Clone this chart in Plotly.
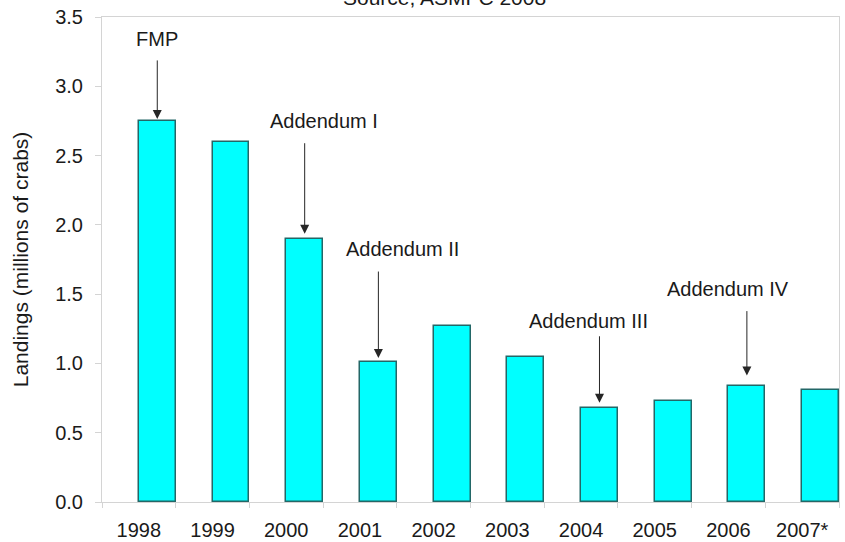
import plotly.graph_objects as go

# Annual landings, millions of crabs
years = ["1998", "1999", "2000", "2001", "2002", "2003", "2004", "2005", "2006", "2007*"]
landings = [2.75, 2.60, 1.90, 1.01, 1.27, 1.05, 0.68, 0.73, 0.84, 0.81]

# Management actions and the year each took effect
actions = ["FMP", "Addendum I", "Addendum II", "Addendum III", "Addendum IV"]
action_years = ["1998", "2000", "2001", "2004", "2006"]

FONT = "Liberation Sans, Arial, sans-serif"
TEXT = "#1a1a1a"
BAR_FILL = "#00FFFF"
BAR_EDGE = "#236767"
AXIS_GREY = "#d4d4d4"

fig = go.Figure()

# Each bar sits in the right half of its category slot
fig.add_trace(go.Bar(
    x=years,
    y=landings,
    offset=0,
    width=0.5,
    marker=dict(color=BAR_FILL, line=dict(color=BAR_EDGE, width=1.5)),
    showlegend=False,
    hoverinfo="x+y",
))

# Arrow styling per action: (arrow length px, gap above bar px, label lift px, label x shift px)
arrow_style = {
    "FMP": (60, 2, 82, 0),
    "Addendum I": (92, 5, 118, 19),
    "Addendum II": (88, 4, 113, 24),
    "Addendum III": (68, 5, 87, -11),
    "Addendum IV": (66, 10, 97, -19),
}

annotations = []
for label, yr in zip(actions, action_years):
    i = years.index(yr)
    val = landings[i]
    length, gap, lift, dx = arrow_style[label]
    xc = i + 0.25
    annotations.append(dict(
        x=xc, y=val, xref="x", yref="y",
        text="", showarrow=True,
        ax=0, ay=-(length + gap), axref="pixel", ayref="pixel",
        standoff=gap,
        arrowhead=2, arrowsize=1.8, arrowwidth=1, arrowcolor="#262626",
    ))
    annotations.append(dict(
        x=xc, y=val, xref="x", yref="y",
        text=label, showarrow=False,
        xshift=dx, yshift=lift,
        xanchor="center", yanchor="middle",
        font=dict(family=FONT, size=20, color=TEXT),
    ))

# Source note along the top edge
annotations.append(dict(
    x=0.465, y=1, xref="paper", yref="paper",
    text="Source, ASMFC 2008", showarrow=False,
    xanchor="center", yanchor="bottom", yshift=6,
    font=dict(family=FONT, size=21, color=TEXT),
))

fig.update_layout(
    width=845, height=542,
    margin=dict(l=102, r=6, t=17, b=40),
    plot_bgcolor="white",
    paper_bgcolor="white",
    font=dict(family=FONT, size=20, color=TEXT),
    annotations=annotations,
    bargap=0,
)

fig.update_xaxes(
    type="category",
    range=[-0.5, 9.5],
    automargin=False,
    showline=True, linecolor=AXIS_GREY, linewidth=1, mirror=True,
    ticks="outside", tickson="boundaries", ticklen=5, tickcolor=AXIS_GREY,
    showgrid=False, zeroline=False,
    tickfont=dict(family=FONT, size=20, color=TEXT),
    ticklabelstandoff=10,
)

fig.update_yaxes(
    range=[0, 3.5],
    automargin=False,
    dtick=0.5, tickformat=".1f",
    showline=True, linecolor=AXIS_GREY, linewidth=1, mirror=True,
    ticks="outside", ticklen=6, tickcolor=AXIS_GREY,
    showgrid=False, zeroline=False,
    tickfont=dict(family=FONT, size=20, color=TEXT),
    ticklabelstandoff=8,
    title=dict(text="Landings (millions of crabs)", standoff=20,
               font=dict(family=FONT, size=21, color=TEXT)),
)

fig.write_html("out.html")
